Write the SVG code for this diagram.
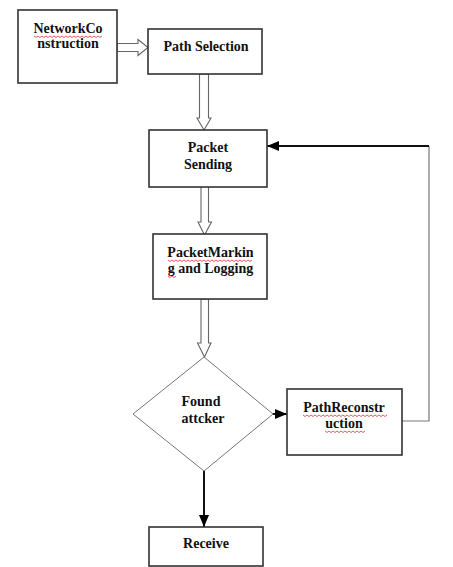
<svg xmlns="http://www.w3.org/2000/svg" width="453" height="567" viewBox="0 0 453 567">
<style>
.box{fill:#fff;stroke:#333;stroke-width:1.6}
.dia{fill:#fff;stroke:#777;stroke-width:1}
.hol{fill:#fff;stroke:#666;stroke-width:1.1}
.ln{fill:none;stroke:#111;stroke-width:2}
.thin{fill:none;stroke:#777;stroke-width:1.2}
.t{font-family:"Liberation Serif","Times New Roman",serif;font-weight:bold;font-size:14px;fill:#111;text-anchor:middle}
.sq{fill:none;stroke:#d33;stroke-width:0.8}
</style>
<defs>
<marker id="ah" markerWidth="12" markerHeight="10" refX="12" refY="5" orient="auto" markerUnits="userSpaceOnUse">
<path d="M0,0 L12,5 L0,10 Z" fill="#000"/>
</marker>
</defs>
<rect width="453" height="567" fill="#fff"/>
<g id="connectors">
<polygon class="hol" points="117,43.5 138,43.5 138,39.5 148,47.5 138,55.5 138,51.5 117,51.5"/>
<polygon class="hol" points="199.5,74 208.5,74 208.5,118 211,118 204,130 197,118 199.5,118"/>
<polygon class="hol" points="201,179 208.5,179 208.5,222 211.5,222 204.5,235 198,222 201,222"/>
<polygon class="hol" points="201,299 208.5,299 208.5,343 211,343 204.5,357 197.5,343 201,343"/>
<line class="ln" x1="273" y1="414" x2="287" y2="414" marker-end="url(#ah)"/>
<line class="ln" x1="204" y1="471" x2="204" y2="527" marker-end="url(#ah)"/>
<polyline class="thin" points="402,421 429,421 429,146"/>
<line class="ln" x1="429" y1="146" x2="267" y2="146" marker-end="url(#ah)"/>
</g>
<g id="network-construction">
<rect class="box" x="18" y="10" width="99" height="73"/>
<text class="t" x="68" y="33">NetworkCo</text>
<text class="t" x="68" y="48">nstruction</text>
<path class="sq" d="M34,36 l2,1.5 l2,-1.5 l2,1.5 l2,-1.5 l2,1.5 l2,-1.5 l2,1.5 l2,-1.5 l2,1.5 l2,-1.5 l2,1.5 l2,-1.5 l2,1.5 l2,-1.5 l2,1.5 l2,-1.5 l2,1.5 l2,-1.5 l2,1.5 l2,-1.5 l2,1.5 l2,-1.5 l2,1.5 l2,-1.5 l2,1.5 l2,-1.5 l2,1.5 l2,-1.5 l2,1.5 l2,-1.5 l2,1.5 l2,-1.5 l2,1.5 l2,-1.5"/>
</g>
<g id="path-selection">
<rect class="box" x="148" y="29" width="114" height="45"/>
<text class="t" x="206" y="51">Path Selection</text>
</g>
<g id="packet-sending">
<rect class="box" x="149" y="130" width="118" height="57"/>
<text class="t" x="208" y="152">Packet</text>
<text class="t" x="208" y="169">Sending</text>
</g>
<g id="packet-marking">
<rect class="box" x="153" y="234" width="114" height="65"/>
<text class="t" x="210.5" y="257">PacketMarkin</text>
<text class="t" x="210.5" y="273">g and Logging</text>
<path class="sq" d="M168,260 l2,1.5 l2,-1.5 l2,1.5 l2,-1.5 l2,1.5 l2,-1.5 l2,1.5 l2,-1.5 l2,1.5 l2,-1.5 l2,1.5 l2,-1.5 l2,1.5 l2,-1.5 l2,1.5 l2,-1.5 l2,1.5 l2,-1.5 l2,1.5 l2,-1.5 l2,1.5 l2,-1.5 l2,1.5 l2,-1.5 l2,1.5 l2,-1.5 l2,1.5 l2,-1.5 l2,1.5 l2,-1.5 l2,1.5 l2,-1.5 l2,1.5 l2,-1.5 l2,1.5 l2,-1.5 l2,1.5 l2,-1.5 l2,1.5 l2,-1.5 l2,1.5 l2,-1.5"/>
<path class="sq" d="M168,276 l2,1.5 l2,-1.5 l2,1.5 l2,-1.5"/>
</g>
<g id="found-attacker">
<polygon class="dia" points="204,357 273,414 204,471 133,414"/>
<text class="t" x="201" y="406">Found</text>
<text class="t" x="203" y="423">attcker</text>
</g>
<g id="path-reconstruction">
<rect class="box" x="287" y="389" width="115" height="66"/>
<text class="t" x="344" y="412">PathReconstr</text>
<text class="t" x="344" y="428">uction</text>
<path class="sq" d="M303,415 l2,1.5 l2,-1.5 l2,1.5 l2,-1.5 l2,1.5 l2,-1.5 l2,1.5 l2,-1.5 l2,1.5 l2,-1.5 l2,1.5 l2,-1.5 l2,1.5 l2,-1.5 l2,1.5 l2,-1.5 l2,1.5 l2,-1.5 l2,1.5 l2,-1.5 l2,1.5 l2,-1.5 l2,1.5 l2,-1.5 l2,1.5 l2,-1.5 l2,1.5 l2,-1.5 l2,1.5 l2,-1.5 l2,1.5 l2,-1.5 l2,1.5 l2,-1.5 l2,1.5 l2,-1.5 l2,1.5 l2,-1.5 l2,1.5 l2,-1.5 l2,1.5 l2,-1.5"/>
<path class="sq" d="M325,431 l2,1.5 l2,-1.5 l2,1.5 l2,-1.5 l2,1.5 l2,-1.5 l2,1.5 l2,-1.5 l2,1.5 l2,-1.5 l2,1.5 l2,-1.5 l2,1.5 l2,-1.5 l2,1.5 l2,-1.5 l2,1.5 l2,-1.5 l2,1.5 l2,-1.5"/>
</g>
<g id="receive">
<rect class="box" x="149" y="527" width="114" height="39"/>
<text class="t" x="206" y="548">Receive</text>
</g>
</svg>
